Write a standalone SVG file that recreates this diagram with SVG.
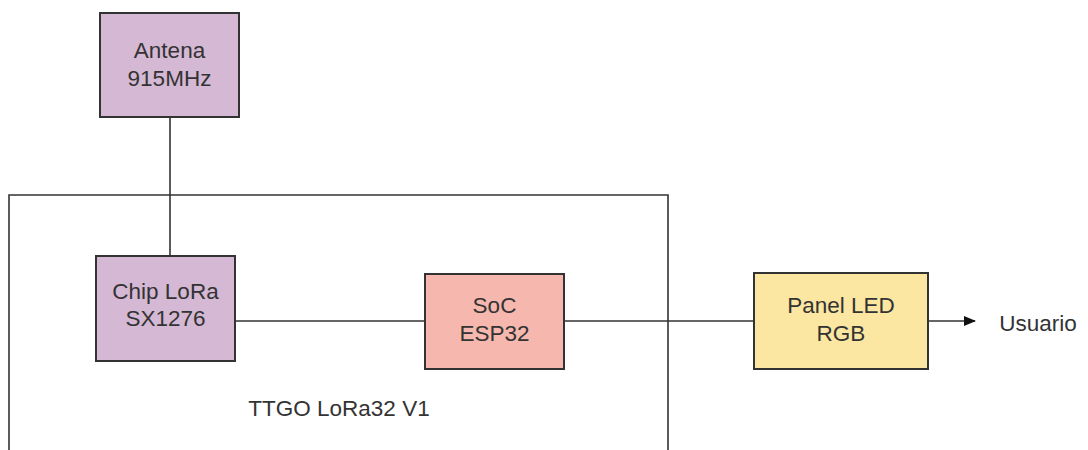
<svg xmlns="http://www.w3.org/2000/svg" width="1088" height="450" viewBox="0 0 1088 450">
<defs>
<style>
.box{stroke:#333;stroke-width:2}
.t{font-family:"Liberation Sans",Arial,sans-serif;font-size:22.5px;fill:#333;text-anchor:middle}
.ln{stroke:#333;stroke-width:1.6;fill:none}
</style>
<marker id="ah" markerWidth="12" markerHeight="10" refX="11" refY="5" orient="auto" markerUnits="userSpaceOnUse">
<path d="M0,0 L12,5 L0,10 Z" fill="#111"/>
</marker>
</defs>
<rect width="1088" height="450" fill="#fff"/>
<g id="frame">
<path class="ln" d="M9,452 V195 H668 V452"/>
<text class="t" x="339" y="416">TTGO LoRa32 V1</text>
</g>
<g id="connectors">
<line class="ln" x1="170" y1="117" x2="170" y2="256"/>
<line class="ln" x1="235" y1="321" x2="425" y2="321"/>
<line class="ln" x1="564" y1="321" x2="754" y2="321"/>
<line class="ln" x1="928" y1="321" x2="975" y2="321" marker-end="url(#ah)"/>
</g>
<g id="antena">
<rect class="box" x="100" y="13" width="139" height="104" fill="#d5b8d3"/>
<text class="t" x="169.5" y="58">Antena</text>
<text class="t" x="169.5" y="85.5">915MHz</text>
</g>
<g id="chip">
<rect class="box" x="96" y="256" width="139" height="105" fill="#d5b8d3"/>
<text class="t" x="165.5" y="298.5">Chip LoRa</text>
<text class="t" x="165.5" y="326">SX1276</text>
</g>
<g id="soc">
<rect class="box" x="425" y="274" width="139" height="95" fill="#f6b8ae"/>
<text class="t" x="494.5" y="313">SoC</text>
<text class="t" x="494.5" y="340.5">ESP32</text>
</g>
<g id="panel">
<rect class="box" x="754" y="273" width="174" height="96" fill="#fbe6a2"/>
<text class="t" x="841" y="313">Panel LED</text>
<text class="t" x="841" y="340.5">RGB</text>
</g>
<g id="usuario">
<text class="t" x="1038" y="331">Usuario</text>
</g>
</svg>
